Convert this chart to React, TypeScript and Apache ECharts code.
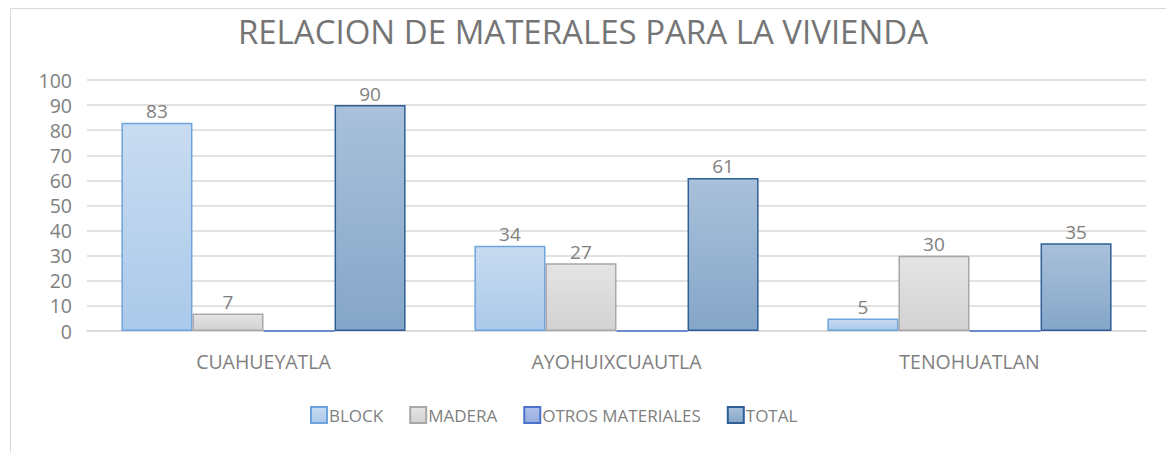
import React, { useEffect, useRef } from "react";
import * as echarts from "echarts";

const categories = ["CUAHUEYATLA", "AYOHUIXCUAUTLA", "TENOHUATLAN"];
const blockValues = [83, 34, 5];
const maderaValues = [7, 27, 30];
const otrosValues = [0, 0, 0];
const totalValues = [90, 61, 35];
const seriesNames = ["BLOCK", "MADERA", "OTROS MATERIALES", "TOTAL"];

const FONT = "'Open Sans', 'Noto Sans', sans-serif";

function grad(top: string, bottom: string) {
  return new echarts.graphic.LinearGradient(0, 0, 0, 1, [
    { offset: 0, color: top },
    { offset: 1, color: bottom },
  ]);
}

export default function App() {
  const ref = useRef<HTMLDivElement>(null);
  useEffect(() => {
    if (!ref.current) return;
    const chart = echarts.init(ref.current, undefined, { renderer: "svg" });
    const label = {
      show: true,
      position: "top" as const,
      distance: 2,
      color: "#7f7f7f",
      fontSize: 19,
      fontFamily: FONT,
      formatter: (p: any) => (p.value === 0 ? "" : String(p.value)),
    };
    const mk = (name: string, data: number[], top: string, bottom: string, border: string) => ({
      name,
      type: "bar" as const,
      data,
      barGap: "0%",
      barCategoryGap: "19.5%",
      itemStyle: { color: grad(top, bottom), borderColor: border, borderWidth: 1.5 },
      label,
    });
    chart.setOption({
      animation: false,
      backgroundColor: "#ffffff",
      textStyle: { fontFamily: FONT },
      graphic: [
        {
          type: "rect",
          shape: { x: 10.5, y: 8.5, width: 1170, height: 460 },
          style: { fill: "none", stroke: "#d9d9d9", lineWidth: 1 },
          silent: true,
        },
      ],
      title: {
        text: "RELACION DE MATERALES PARA LA VIVIENDA",
        left: "center",
        top: 10,
        textStyle: { color: "#757575", fontSize: 33, fontWeight: "normal", fontFamily: FONT },
      },
      legend: {
        data: seriesNames,
        top: 401,
        left: 305,
        icon: "rect",
        itemWidth: 16,
        itemHeight: 16,
        itemGap: 26,
        textStyle: { color: "#7f7f7f", fontSize: 17, fontFamily: FONT, padding: [0, 0, 0, -3] },
      },
      grid: { left: 87, right: 20, top: 80, bottom: 122, containLabel: false },
      xAxis: {
        type: "category",
        data: categories,
        axisTick: { show: false },
        axisLine: { lineStyle: { color: "#d9d9d9", width: 1.5 } },
        axisLabel: { color: "#7f7f7f", fontSize: 19.5, margin: 20, fontFamily: FONT },
      },
      yAxis: {
        type: "value",
        min: 0,
        max: 100,
        interval: 10,
        axisLine: { show: false },
        axisTick: { show: false },
        splitLine: { lineStyle: { color: "#d9d9d9", width: 1.5 } },
        axisLabel: { color: "#7f7f7f", fontSize: 19.5, margin: 15, fontFamily: FONT },
      },
      series: [
        mk(seriesNames[0], blockValues, "#c8dcf1", "#abc9ea", "#6fa3dc"),
        mk(seriesNames[1], maderaValues, "#e4e4e4", "#d2d2d2", "#a8a8a8"),
        mk(seriesNames[2], otrosValues, "#b0c0ea", "#98addf", "#4a72c8"),
        mk(seriesNames[3], totalValues, "#a9c1da", "#85a6c9", "#2f5f96"),
      ],
    });
    return () => chart.dispose();
  }, []);
  return (
    <div
      ref={ref}
      style={{ position: "absolute", left: 0, top: 0, width: 1166, height: 453 }}
    />
  );
}
